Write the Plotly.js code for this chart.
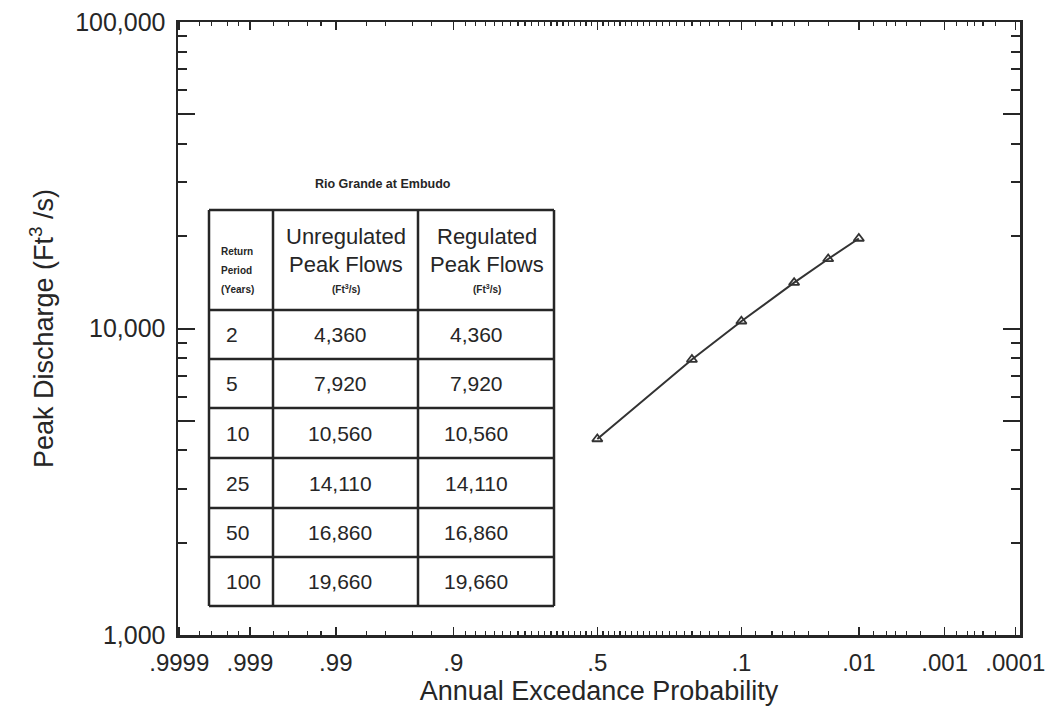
<!DOCTYPE html>
<html>
<head>
<meta charset="utf-8">
<script src="https://cdn.plot.ly/plotly-3.0.1.min.js"></script>
<style>
  html, body { margin: 0; padding: 0; background: #ffffff; }
  #chart { width: 1058px; height: 713px; }
</style>
</head>
<body>
<div id="chart"></div>
<script>
// Rio Grande at Embudo: flood frequency (peak discharge vs annual exceedance probability)
const returnPeriods = [2, 5, 10, 25, 50, 100];
const exceedanceProb = [0.5, 0.2, 0.1, 0.04, 0.02, 0.01];
const unregulatedFlows = [4360, 7920, 10560, 14110, 16860, 19660];
const regulatedFlows = [4360, 7920, 10560, 14110, 16860, 19660];

const probTickVals = [0.9999, 0.999, 0.99, 0.9, 0.5, 0.1, 0.01, 0.001, 0.0001];
const probTickText = ['.9999', '.999', '.99', '.9', '.5', '.1', '.01', '.001', '.0001'];
const probMinorVals = [
  0.9998, 0.9997, 0.9995, 0.9993, 0.999, 0.998, 0.997, 0.995, 0.993,
  0.98, 0.97, 0.95, 0.93, 0.88, 0.86, 0.84, 0.82, 0.8, 0.78, 0.76, 0.74, 0.72, 0.7,
  0.68, 0.66, 0.64, 0.62, 0.6, 0.58, 0.56, 0.54, 0.52, 0.48, 0.46, 0.44, 0.42, 0.4,
  0.38, 0.36, 0.34, 0.32, 0.3, 0.28, 0.26, 0.24, 0.22, 0.2, 0.18, 0.16, 0.14, 0.12,
  0.08, 0.06, 0.05, 0.04, 0.03, 0.02, 0.007, 0.005, 0.004, 0.003, 0.002,
  0.0007, 0.0005, 0.0004, 0.0003, 0.0002
];

const flowTickVals = [1000, 10000, 100000];
const flowTickText = ['1,000', '10,000', '100,000'];
const flowHalfDecadeVals = [5000, 50000];
const flowMinorVals = [2000, 3000, 4000, 6000, 7000, 8000, 9000,
  20000, 30000, 40000, 60000, 70000, 80000, 90000];

const tableTitle = 'Rio Grande at Embudo';
const periodHeaderLines = ['Return', 'Period', '(Years)'];
const unregulatedHeaderLines = ['Unregulated', 'Peak Flows'];
const regulatedHeaderLines = ['Regulated', 'Peak Flows'];
const unitLabel = '(Ft<sup>3</sup>/s)';

// Normal probability scale: inverse standard normal CDF (Acklam's rational approximation)
function normInv(p) {
  const a = [-3.969683028665376e+01, 2.209460984245205e+02, -2.759285104469687e+02,
    1.383577518672690e+02, -3.066479806614716e+01, 2.506628277459239e+00];
  const b = [-5.447609879822406e+01, 1.615858368580409e+02, -1.556989798598866e+02,
    6.680131188771972e+01, -1.328068155288572e+01];
  const c = [-7.784894002430293e-03, -3.223964580411365e-01, -2.400758277161838e+00,
    -2.549671010318348e+00, 4.374664141464968e+00, 2.938163982698783e+00];
  const d = [7.784695709041462e-03, 3.224671290700398e-01, 2.445134137142996e+00,
    3.754408661907416e+00];
  const pl = 0.02425, ph = 1 - pl;
  let q, r;
  if (p < pl) {
    q = Math.sqrt(-2 * Math.log(p));
    return (((((c[0]*q+c[1])*q+c[2])*q+c[3])*q+c[4])*q+c[5]) /
           ((((d[0]*q+d[1])*q+d[2])*q+d[3])*q+1);
  } else if (p <= ph) {
    q = p - 0.5; r = q * q;
    return (((((a[0]*r+a[1])*r+a[2])*r+a[3])*r+a[4])*r+a[5])*q /
           (((((b[0]*r+b[1])*r+b[2])*r+b[3])*r+b[4])*r+1);
  } else {
    q = Math.sqrt(-2 * Math.log(1 - p));
    return -(((((c[0]*q+c[1])*q+c[2])*q+c[3])*q+c[4])*q+c[5]) /
            ((((d[0]*q+d[1])*q+d[2])*q+d[3])*q+1);
  }
}
// exceedance probability -> position on the probability axis (rare events to the right)
const probScale = p => normInv(1 - p);

const INK = '#262626';
const FONT = 'Liberation Sans, Arial, Helvetica, sans-serif';

// plot area in pixels
const M = { l: 178, r: 38, t: 22, b: 78 };
const W = 1058 - M.l - M.r, H = 713 - M.t - M.b;
const px = x => (x - M.l) / W;
const py = y => (713 - M.b - y) / H;

const trace = {
  x: exceedanceProb.map(probScale),
  y: regulatedFlows,
  type: 'scatter',
  mode: 'lines+markers',
  line: { color: '#333333', width: 2 },
  marker: { symbol: 'triangle-up-open', size: 9, color: '#333333', line: { width: 1.8 } },
  showlegend: false,
  hoverinfo: 'x+y'
};

// longer ticks at the half decades, drawn on a matching overlay axis
const halfDecadeTicks = {
  x: [null], y: [null], yaxis: 'y2', type: 'scatter', mode: 'markers',
  showlegend: false, hoverinfo: 'skip'
};

// inset table geometry (pixels)
const colX = [209, 273, 418, 554];
const rowY = [210, 310, 359, 408, 458, 508, 557, 606];

const shapes = [];
const tableLine = { color: INK, width: 2.5 };
colX.forEach(x => shapes.push({
  type: 'line', xref: 'paper', yref: 'paper',
  x0: px(x), x1: px(x), y0: py(rowY[0]), y1: py(rowY[rowY.length - 1]), line: tableLine
}));
rowY.forEach(y => shapes.push({
  type: 'line', xref: 'paper', yref: 'paper',
  x0: px(colX[0]), x1: px(colX[colX.length - 1]), y0: py(y), y1: py(y), line: tableLine
}));

const annotations = [];
const note = (x, y, text, size, extra) => annotations.push(Object.assign({
  xref: 'paper', yref: 'paper', x: px(x), y: py(y), text: text, showarrow: false,
  font: { family: FONT, size: size, color: INK }, xanchor: 'center', yanchor: 'middle'
}, extra || {}));

note(383, 184, '<b>' + tableTitle + '</b>', 12.5);
periodHeaderLines.forEach((t, i) =>
  note(219, 251 + i * 19, '<b>' + t + '</b>', 10, { xanchor: 'left' }));
unregulatedHeaderLines.forEach((t, i) => note(346, 236 + i * 28, t, 22));
regulatedHeaderLines.forEach((t, i) => note(487, 236 + i * 28, t, 22));
note(346, 289, '<b>' + unitLabel + '</b>', 10);
note(487, 289, '<b>' + unitLabel + '</b>', 10);

const fmt = v => v.toLocaleString('en-US');
returnPeriods.forEach((t, i) => {
  const yc = (rowY[i + 1] + rowY[i + 2]) / 2;
  note(224, yc, String(t), 21, { xanchor: 'left' });
  note(340, yc, fmt(unregulatedFlows[i]), 21);
  note(476, yc, fmt(regulatedFlows[i]), 21);
});

const axisLine = { showline: true, linecolor: INK, linewidth: 2.5, showgrid: false, zeroline: false };

const layout = {
  width: 1058, height: 713,
  margin: M,
  paper_bgcolor: '#ffffff', plot_bgcolor: '#ffffff',
  font: { family: FONT, color: INK },
  xaxis: Object.assign({
    range: [-3.73, 3.76],
    tickmode: 'array',
    tickvals: probTickVals.map(probScale),
    ticktext: probTickText,
    ticks: 'inside', ticklen: 8, tickwidth: 1.5, tickcolor: INK,
    minor: { tickmode: 'array', tickvals: probMinorVals.map(probScale),
             ticks: 'inside', ticklen: 4, tickwidth: 1.2, tickcolor: INK, showgrid: false },
    mirror: 'ticks',
    tickfont: { family: FONT, size: 24, color: INK },
    ticklabelstandoff: 5,
    title: { text: 'Annual Excedance Probability', font: { family: FONT, size: 27, color: INK }, standoff: 2 }
  }, axisLine),
  yaxis: Object.assign({
    type: 'log',
    range: [3, 5],
    tickmode: 'array',
    tickvals: flowTickVals,
    ticktext: flowTickText,
    ticks: 'inside', ticklen: 17, tickwidth: 2, tickcolor: INK,
    minor: { tickmode: 'array', tickvals: flowMinorVals,
             ticks: 'inside', ticklen: 9, tickwidth: 2, tickcolor: INK, showgrid: false },
    mirror: 'ticks',
    tickfont: { family: FONT, size: 25, color: INK },
    ticklabelstandoff: 5,
    title: { text: 'Peak Discharge (Ft<sup>3</sup> /s)', font: { family: FONT, size: 27, color: INK }, standoff: 14 }
  }, axisLine),
  yaxis2: Object.assign({
    type: 'log', range: [3, 5], overlaying: 'y', side: 'left', matches: 'y',
    tickmode: 'array', tickvals: flowHalfDecadeVals, showticklabels: false,
    ticks: 'inside', ticklen: 17, tickwidth: 2, tickcolor: INK, mirror: 'ticks'
  }, axisLine),
  shapes: shapes,
  annotations: annotations
};

Plotly.newPlot('chart', [trace, halfDecadeTicks], layout, { staticPlot: true, displayModeBar: false });
</script>
</body>
</html>
